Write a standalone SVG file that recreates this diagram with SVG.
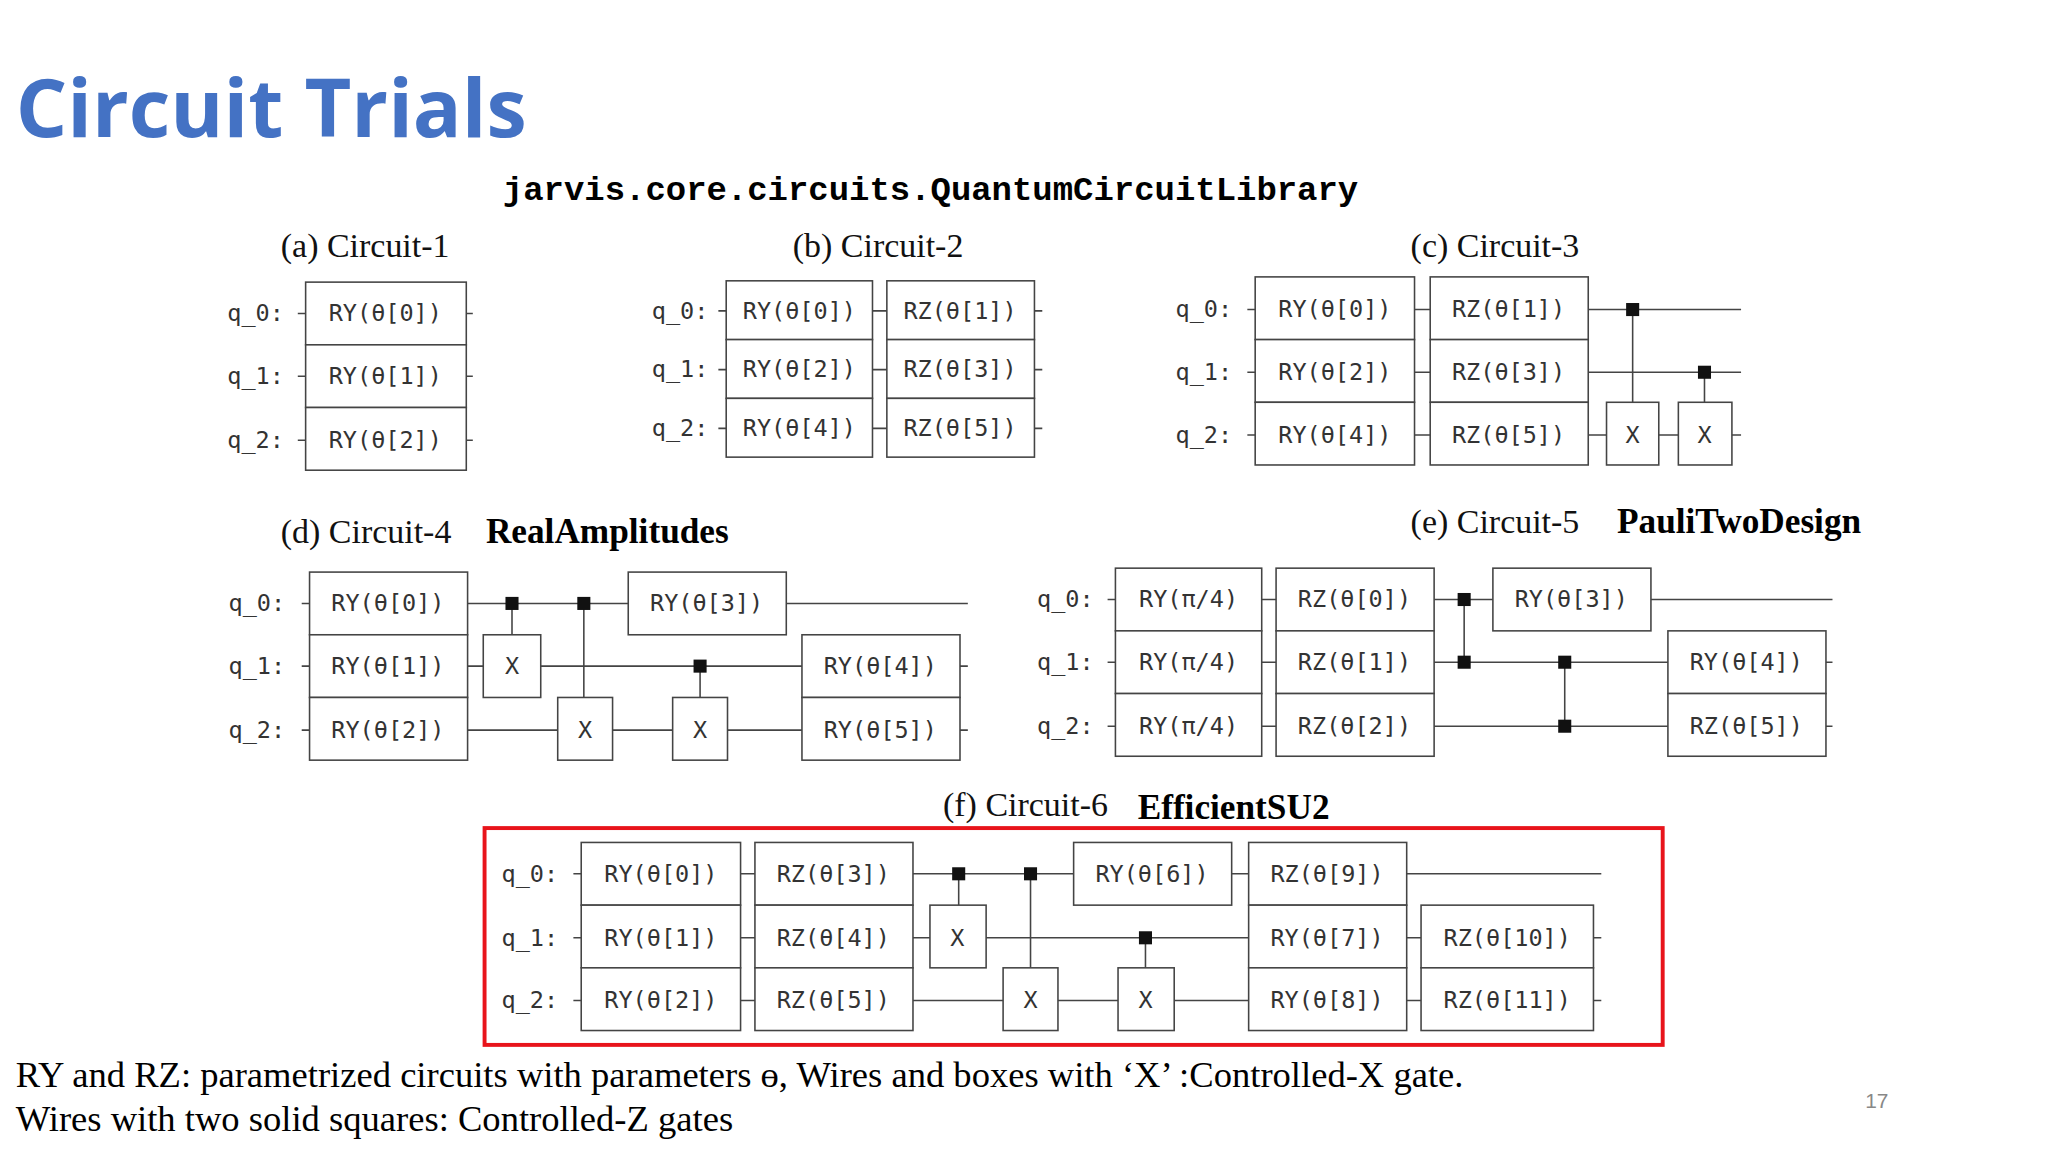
<svg xmlns="http://www.w3.org/2000/svg" width="2048" height="1152" viewBox="0 0 2048 1152">
<style>
.w{stroke:#444;stroke-width:1.2;fill:none}
.b{fill:#fff;stroke:#444;stroke-width:1.2}
.g{font-family:"DejaVu Sans Mono",monospace;font-size:18px;fill:#333;text-anchor:middle}
.q{font-family:"DejaVu Sans Mono",monospace;font-size:18px;fill:#333}
.t{font-family:"Liberation Serif",serif;font-size:26px;fill:#111}
.tb{font-family:"Liberation Serif",serif;font-size:27px;font-weight:bold;fill:#000}
.d{fill:#111}
</style>
<rect width="2048" height="1152" fill="#fff"/>
<g transform="scale(1.30612)">
<text x="12" y="105" font-family="'Open Sans','Liberation Sans',sans-serif" font-size="62" font-weight="bold" fill="#4472C4">Circuit Trials</text>
<text x="385" y="153" font-family="'Liberation Mono',monospace" font-size="26" font-weight="bold" fill="#000">jarvis.core.circuits.QuantumCircuitLibrary</text>
<text class="t" x="215" y="197">(a) Circuit-1</text>
<text class="t" x="607" y="197">(b) Circuit-2</text>
<text class="t" x="1080" y="197">(c) Circuit-3</text>
<text class="t" x="215" y="416">(d) Circuit-4</text><text class="tb" x="372" y="416">RealAmplitudes</text>
<text class="t" x="1080" y="408">(e) Circuit-5</text><text class="tb" x="1238" y="408">PauliTwoDesign</text>
<text class="t" x="722" y="625">(f) Circuit-6</text><text class="tb" x="871" y="627">EfficientSU2</text>

<g id="circuit1">
<text class="q" x="174" y="246">q_0:</text><text class="q" x="174" y="294">q_1:</text><text class="q" x="174" y="343">q_2:</text>
<path class="w" d="M228 240H362M228 288H362M228 337H362"/>
<rect class="b" x="234" y="216" width="123" height="48"/><rect class="b" x="234" y="264" width="123" height="48"/><rect class="b" x="234" y="312" width="123" height="48"/>
<text class="g" x="295" y="246">RY(θ[0])</text><text class="g" x="295" y="294">RY(θ[1])</text><text class="g" x="295" y="343">RY(θ[2])</text>
</g>

<g id="circuit2">
<text class="q" x="499" y="244">q_0:</text><text class="q" x="499" y="289">q_1:</text><text class="q" x="499" y="334">q_2:</text>
<path class="w" d="M550 238H798M550 283H798M550 328H798"/>
<rect class="b" x="556" y="215" width="112" height="45"/><rect class="b" x="556" y="260" width="112" height="45"/><rect class="b" x="556" y="305" width="112" height="45"/>
<rect class="b" x="679" y="215" width="113" height="45"/><rect class="b" x="679" y="260" width="113" height="45"/><rect class="b" x="679" y="305" width="113" height="45"/>
<text class="g" x="612" y="244">RY(θ[0])</text><text class="g" x="612" y="289">RY(θ[2])</text><text class="g" x="612" y="334">RY(θ[4])</text>
<text class="g" x="735" y="244">RZ(θ[1])</text><text class="g" x="735" y="289">RZ(θ[3])</text><text class="g" x="735" y="334">RZ(θ[5])</text>
</g>

<g id="circuit3">
<text class="q" x="900" y="243">q_0:</text><text class="q" x="900" y="291">q_1:</text><text class="q" x="900" y="339">q_2:</text>
<path class="w" d="M955 237H1333M955 285H1333M955 333H1333M1250 237V308M1305 285V308"/>
<rect class="b" x="961" y="212" width="122" height="48"/><rect class="b" x="961" y="260" width="122" height="48"/><rect class="b" x="961" y="308" width="122" height="48"/>
<rect class="b" x="1095" y="212" width="121" height="48"/><rect class="b" x="1095" y="260" width="121" height="48"/><rect class="b" x="1095" y="308" width="121" height="48"/>
<rect class="b" x="1230" y="308" width="40" height="48"/><rect class="b" x="1285" y="308" width="41" height="48"/>
<rect class="d" x="1245" y="232" width="10" height="10"/><rect class="d" x="1300" y="280" width="10" height="10"/>
<text class="g" x="1022" y="243">RY(θ[0])</text><text class="g" x="1022" y="291">RY(θ[2])</text><text class="g" x="1022" y="339">RY(θ[4])</text>
<text class="g" x="1155" y="243">RZ(θ[1])</text><text class="g" x="1155" y="291">RZ(θ[3])</text><text class="g" x="1155" y="339">RZ(θ[5])</text>
<text class="g" x="1250" y="339">X</text><text class="g" x="1305" y="339">X</text>
</g>

<g id="circuit4">
<text class="q" x="175" y="468">q_0:</text><text class="q" x="175" y="516">q_1:</text><text class="q" x="175" y="565">q_2:</text>
<path class="w" d="M231 462H741M231 510H741M231 559H741M392 462V486M447 462V534M536 510V534"/>
<rect class="b" x="237" y="438" width="121" height="48"/><rect class="b" x="237" y="486" width="121" height="48"/><rect class="b" x="237" y="534" width="121" height="48"/>
<rect class="b" x="370" y="486" width="44" height="48"/><rect class="b" x="427" y="534" width="42" height="48"/><rect class="b" x="515" y="534" width="42" height="48"/>
<rect class="b" x="481" y="438" width="121" height="48"/>
<rect class="b" x="614" y="486" width="121" height="48"/><rect class="b" x="614" y="534" width="121" height="48"/>
<rect class="d" x="387" y="457" width="10" height="10"/><rect class="d" x="442" y="457" width="10" height="10"/><rect class="d" x="531" y="505" width="10" height="10"/>
<text class="g" x="297" y="468">RY(θ[0])</text><text class="g" x="297" y="516">RY(θ[1])</text><text class="g" x="297" y="565">RY(θ[2])</text>
<text class="g" x="392" y="516">X</text><text class="g" x="448" y="565">X</text><text class="g" x="536" y="565">X</text>
<text class="g" x="541" y="468">RY(θ[3])</text><text class="g" x="674" y="516">RY(θ[4])</text><text class="g" x="674" y="565">RY(θ[5])</text>
</g>

<g id="circuit5">
<text class="q" x="794" y="465">q_0:</text><text class="q" x="794" y="513">q_1:</text><text class="q" x="794" y="562">q_2:</text>
<path class="w" d="M848 459H1403M848 507H1403M848 556H1403M1121 459V507M1198 507V556"/>
<rect class="b" x="854" y="435" width="112" height="48"/><rect class="b" x="854" y="483" width="112" height="48"/><rect class="b" x="854" y="531" width="112" height="48"/>
<rect class="b" x="977" y="435" width="121" height="48"/><rect class="b" x="977" y="483" width="121" height="48"/><rect class="b" x="977" y="531" width="121" height="48"/>
<rect class="b" x="1143" y="435" width="121" height="48"/>
<rect class="b" x="1277" y="483" width="121" height="48"/><rect class="b" x="1277" y="531" width="121" height="48"/>
<rect class="d" x="1116" y="454" width="10" height="10"/><rect class="d" x="1116" y="502" width="10" height="10"/>
<rect class="d" x="1193" y="502" width="10" height="10"/><rect class="d" x="1193" y="551" width="10" height="10"/>
<text class="g" x="910" y="465">RY(π/4)</text><text class="g" x="910" y="513">RY(π/4)</text><text class="g" x="910" y="562">RY(π/4)</text>
<text class="g" x="1037" y="465">RZ(θ[0])</text><text class="g" x="1037" y="513">RZ(θ[1])</text><text class="g" x="1037" y="562">RZ(θ[2])</text>
<text class="g" x="1203" y="465">RY(θ[3])</text><text class="g" x="1337" y="513">RY(θ[4])</text><text class="g" x="1337" y="562">RZ(θ[5])</text>
</g>

<g id="circuit6">
<rect x="371" y="634" width="902" height="166" fill="none" stroke="#e8141b" stroke-width="3"/>
<text class="q" x="384" y="675">q_0:</text><text class="q" x="384" y="724">q_1:</text><text class="q" x="384" y="772">q_2:</text>
<path class="w" d="M439 669H1226M439 718H1226M439 766H1226M734 669V693M789 669V741M877 718V741"/>
<rect class="b" x="445" y="645" width="122" height="48"/><rect class="b" x="445" y="693" width="122" height="48"/><rect class="b" x="445" y="741" width="122" height="48"/>
<rect class="b" x="578" y="645" width="121" height="48"/><rect class="b" x="578" y="693" width="121" height="48"/><rect class="b" x="578" y="741" width="121" height="48"/>
<rect class="b" x="712" y="693" width="43" height="48"/><rect class="b" x="768" y="741" width="42" height="48"/><rect class="b" x="856" y="741" width="43" height="48"/>
<rect class="b" x="822" y="645" width="121" height="48"/>
<rect class="b" x="956" y="645" width="121" height="48"/><rect class="b" x="956" y="693" width="121" height="48"/><rect class="b" x="956" y="741" width="121" height="48"/>
<rect class="b" x="1088" y="693" width="132" height="48"/><rect class="b" x="1088" y="741" width="132" height="48"/>
<rect class="d" x="729" y="664" width="10" height="10"/><rect class="d" x="784" y="664" width="10" height="10"/><rect class="d" x="872" y="713" width="10" height="10"/>
<text class="g" x="506" y="675">RY(θ[0])</text><text class="g" x="506" y="724">RY(θ[1])</text><text class="g" x="506" y="772">RY(θ[2])</text>
<text class="g" x="638" y="675">RZ(θ[3])</text><text class="g" x="638" y="724">RZ(θ[4])</text><text class="g" x="638" y="772">RZ(θ[5])</text>
<text class="g" x="733" y="724">X</text><text class="g" x="789" y="772">X</text><text class="g" x="877" y="772">X</text>
<text class="g" x="882" y="675">RY(θ[6])</text>
<text class="g" x="1016" y="675">RZ(θ[9])</text><text class="g" x="1016" y="724">RY(θ[7])</text><text class="g" x="1016" y="772">RY(θ[8])</text>
<text class="g" x="1154" y="724">RZ(θ[10])</text><text class="g" x="1154" y="772">RZ(θ[11])</text>
</g>

<text x="12" y="832" font-family="'Liberation Serif',serif" font-size="28" fill="#000">RY and RZ: parametrized circuits with parameters ɵ, Wires and boxes with ‘X’ :Controlled-X gate.</text>
<text x="12" y="866" font-family="'Liberation Serif',serif" font-size="28" fill="#000">Wires with two solid squares: Controlled-Z gates</text>
<text x="1428" y="848" font-family="'Liberation Sans',sans-serif" font-size="16" fill="#888">17</text>
</g>
</svg>
